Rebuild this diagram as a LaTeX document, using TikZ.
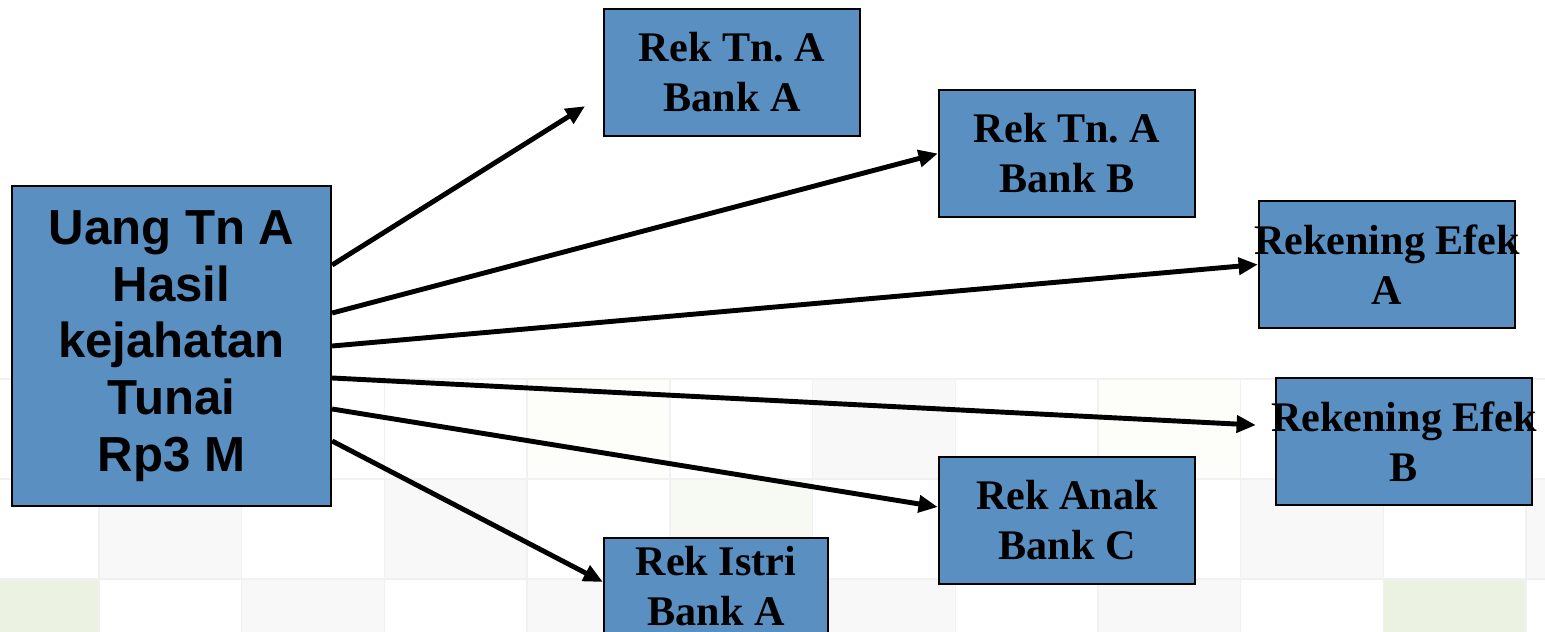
\documentclass[tikz,border=0pt]{standalone}
\usepackage{fontspec}
\setmainfont{Liberation Serif}
\setsansfont{Liberation Sans}
\usetikzlibrary{arrows.meta}
\frenchspacing

\definecolor{boxblue}{RGB}{90,143,194}
\definecolor{cellgray}{RGB}{248,248,248}
\definecolor{cellline}{RGB}{241,241,241}
\definecolor{cellgreen}{RGB}{235,242,225}
\definecolor{cellcream}{RGB}{253,253,249}

\tikzset{
  rek/.style={draw=black, line width=1.3pt, fill=boxblue, minimum width=5.12cm,
    minimum height=2.54cm, inner sep=0pt, align=center,
    font=\bfseries\fontsize{24}{28.4}\selectfont},
  asal/.style={draw=black, line width=1.3pt, fill=boxblue, minimum width=6.38cm,
    minimum height=6.4cm, inner sep=0pt, align=center,
    font=\sffamily\bfseries\fontsize{28}{32.3}\selectfont},
  alur/.style={-{Triangle[length=11pt,width=9.5pt]}, line width=2.8pt},
  sel/.style={draw=cellline, line width=0.8pt}
}

\begin{document}
\begin{tikzpicture}[x=0.02cm, y=-0.02cm]
			\clip (0,0) rectangle (1545,632);
			\fill[white] (0,0) rectangle (1545,632);
			% faint squares of the slide background
			\foreach \k in {-1,...,10}
			  \foreach \r in {0,1,2}
			    \draw[sel] (99+142.7*\k,379+100*\r) rectangle ++(142.7,100);
			\foreach \k/\r/\c in {3/0/cellcream, 5/0/cellgray, 7/0/cellcream,
			    0/1/cellgray, 2/1/cellgray, 4/1/cellgreen!40, 8/1/cellgray, 10/1/cellgray,
			    -1/2/cellgreen, 1/2/cellgray, 3/2/cellgray, 5/2/cellgray, 7/2/cellgray, 9/2/cellgreen}
			  \filldraw[sel, fill=\c] (99+142.7*\k,379+100*\r) rectangle ++(142.7,100);

			\node[asal] (uang) at (171.5,346) {Uang Tn A\\Hasil\\kejahatan\\Tunai\\Rp3 M};
			\node[rek] (rekTnA) at (732,72.5) {Rek Tn. A\\Bank A};
			\node[rek] (rekTnB) at (1067,153.5) {Rek Tn. A\\Bank B};
			\node[rek] (efekA) at (1387,264.5) {\makebox[4.6cm]{Rekening Efek}\\A};
			\node[rek] (efekB) at (1404,441.5) {\makebox[4.6cm]{Rekening Efek}\\B};
			\node[rek] (anakC) at (1067,520.5) {Rek Anak\\Bank C};
			\node[rek, minimum width=4.48cm, minimum height=1.94cm] (istri) at (716,586.5) {Rek Istri\\Bank A};

			\draw[alur, shorten >=0.42cm] ([yshift=1.62cm]uang.east) -- ([yshift=-0.45cm]rekTnA.west);
			\draw[alur] ([yshift=0.66cm]uang.east) -- (rekTnB.west);
			\draw[alur] (uang.east) -- (efekA.west);
			\draw[alur, shorten >=0.38cm] ([yshift=-0.64cm]uang.east) -- ([yshift=0.31cm]efekB.west);
			\draw[alur] ([yshift=-1.26cm]uang.east) -- ([yshift=0.27cm]anakC.west);
			\draw[alur] ([yshift=-1.9cm]uang.east) -- ([yshift=0.09cm]istri.west);
	\end{tikzpicture}
\end{document}
